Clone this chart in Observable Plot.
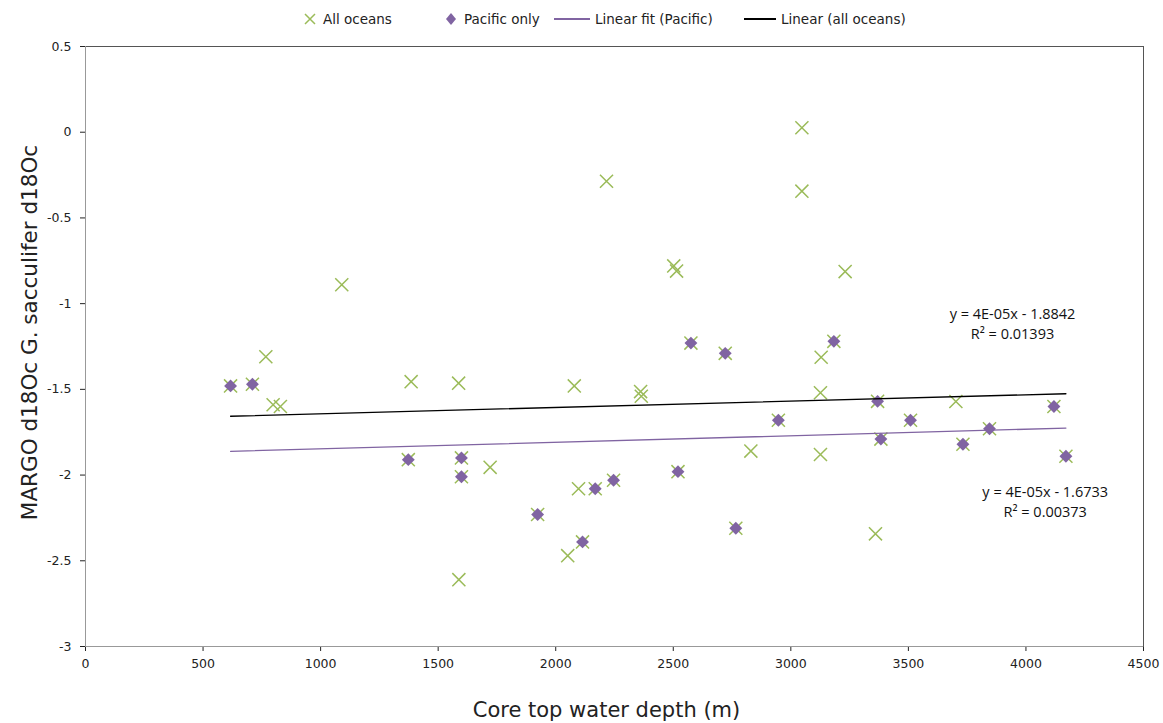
<!DOCTYPE html>
<html><head><meta charset="utf-8">
<script src="https://cdn.jsdelivr.net/npm/d3@7"></script>
<script src="https://cdn.jsdelivr.net/npm/@observablehq/plot@0.6"></script>
<style>
body{margin:0;background:#fff;font-family:"DejaVu Sans",sans-serif;}
#legend{position:relative;height:36px;width:1163px;font-size:13.5px;color:#222;}
#legend .it{position:absolute;top:11px;display:flex;align-items:center;white-space:nowrap;}
#legend svg{margin-right:5px;}
</style></head><body>
<div id="legend"></div>
<div id="chart"></div>
<script>
// Pacific-only cores (also part of "all oceans")
const pacificDepth = [617, 710, 1373, 1599, 1599, 1923, 2114, 2168, 2246, 2520, 2575, 2721, 2766, 2947, 3183, 3369, 3383, 3509, 3732, 3845, 4119, 4170];
const pacificD18O  = [-1.48, -1.47, -1.91, -1.90, -2.01, -2.23, -2.39, -2.08, -2.03, -1.98, -1.23, -1.29, -2.31, -1.68, -1.22, -1.57, -1.79, -1.68, -1.82, -1.73, -1.60, -1.89];
// Other (non-Pacific) cores in "all oceans"
const otherDepth = [767, 798, 829, 1090, 1385, 1587, 1588, 1721, 2051, 2079, 2097, 2216, 2361, 2364, 2502, 2514, 2830, 3047, 3047, 3129, 3126, 3126, 3231, 3360, 3702];
const otherD18O  = [-1.31, -1.59, -1.60, -0.89, -1.455, -1.464, -2.61, -1.955, -2.47, -1.48, -2.08, -0.286, -1.513, -1.54, -0.78, -0.81, -1.86, 0.026, -0.344, -1.313, -1.52, -1.88, -0.813, -2.343, -1.571];
// Axis ticks
const xTicks = [0, 500, 1000, 1500, 2000, 2500, 3000, 3500, 4000, 4500];
const yTicks = [0.5, 0, -0.5, -1, -1.5, -2, -2.5, -3];
// Trendline labels (as shown in the reference)
const fitLabelText = ["y = 4E-05x - 1.8842\nR² = 0.01393", "y = 4E-05x - 1.6733\nR² = 0.00373"];
const fitLabelX = [3943, 4082];
const fitLabelY = [-1.11, -2.15];
// Legend
const legendNames = ["All oceans", "Pacific only", "Linear fit (Pacific)", "Linear (all oceans)"];

const green = "#9bbb59", purple = "#8064a2";

const pacific = pacificDepth.map((d, i) => ({depth: d, d18o: pacificD18O[i]}));
const other = otherDepth.map((d, i) => ({depth: d, d18o: otherD18O[i]}));
const all = other.concat(pacific);
const labels = fitLabelText.map((t, i) => ({t, x: fitLabelX[i], y: fitLabelY[i]}));

const chart = Plot.plot({
  width: 1163,
  height: 687,
  marginTop: 10,
  marginLeft: 85,
  marginRight: 20,
  marginBottom: 77,
  style: {fontFamily: "DejaVu Sans, sans-serif", fontSize: "12.5px", color: "#222", background: "#fff"},
  x: {domain: [0, 4500], ticks: xTicks, tickFormat: d => String(d), tickSize: 5, tickPadding: 8, label: "Core top water depth (m)", labelAnchor: "center", labelOffset: 70},
  y: {domain: [-3, 0.5], ticks: yTicks, tickFormat: d => String(d).replace("−", "-"), tickSize: 5, tickPadding: 9, label: "MARGO d18Oc G. sacculifer d18Oc", labelAnchor: "center", labelOffset: 64},
  marks: [
    Plot.frame({stroke: "#555"}),
    Plot.ruleX([0], {stroke: "#999"}),
    Plot.ruleY([-3], {stroke: "#999"}),
    Plot.dot(all, {x: "depth", y: "d18o", symbol: "times", r: 6, stroke: green, strokeWidth: 1.5}),
    Plot.dot(pacific, {x: "depth", y: "d18o", symbol: "diamond2", r: 5.8, fill: purple, stroke: "none"}),
    Plot.linearRegressionY(all, {x: "depth", y: "d18o", stroke: "#000", strokeWidth: 1.3, ci: 0}),
    Plot.linearRegressionY(pacific, {x: "depth", y: "d18o", stroke: purple, strokeWidth: 1.3, ci: 0}),
    Plot.text(labels, {x: "x", y: "y", text: "t", fontSize: 14.5, fontFamily: "Open Sans, sans-serif", lineHeight: 1.35, fill: "#111"})
  ]
});
chart.querySelectorAll("[aria-label='x-axis label'] text").forEach(t => {
  t.style.fontSize = "21px";
  t.setAttribute("dx", "-8");
  t.textContent = t.textContent.replace(/\s*[→↑←↓]\s*/g, "").trim();
});
chart.querySelectorAll("[aria-label='y-axis label'] text").forEach(t => {
  t.style.fontSize = "21.5px";
  t.setAttribute("dx", "14");
  t.textContent = t.textContent.replace(/\s*[→↑←↓]\s*/g, "").trim();
});
document.getElementById("chart").appendChild(chart);

// Legend
const leg = document.getElementById("legend");
const lefts = [302, 443, 554, 744];
const swatches = [
  `<svg width="16" height="16"><path d="M3,3L13,13M13,3L3,13" stroke="${green}" stroke-width="1.5"/></svg>`,
  `<svg width="16" height="16"><path d="M8,2L13,8L8,14L3,8Z" fill="${purple}"/></svg>`,
  `<svg width="36" height="16"><line x1="0" y1="8" x2="36" y2="8" stroke="${purple}" stroke-width="2"/></svg>`,
  `<svg width="32" height="16"><line x1="0" y1="8" x2="32" y2="8" stroke="#000" stroke-width="2"/></svg>`
];
legendNames.forEach((n, i) => {
  const d = document.createElement("div");
  d.className = "it";
  d.style.left = lefts[i] + "px";
  d.innerHTML = swatches[i] + `<span>${n}</span>`;
  leg.appendChild(d);
});
</script>
</body></html>
